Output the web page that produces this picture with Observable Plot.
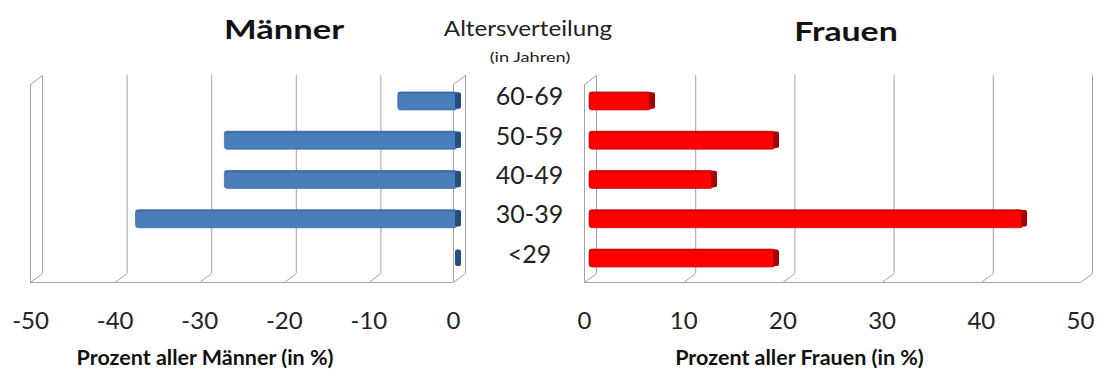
<!DOCTYPE html>
<html>
<head>
<meta charset="utf-8">
<script src="https://cdn.jsdelivr.net/npm/d3@7"></script>
<script src="https://cdn.jsdelivr.net/npm/@observablehq/plot@0.6"></script>
<style>
  body { margin: 0; background: #fff; font-family: Lato, "Open Sans", sans-serif; }
  #page { position: relative; width: 1107px; height: 374px; overflow: hidden; }
  .t { position: absolute; white-space: nowrap; color: #111; }
  .panel { position: absolute; top: 60px; }
  .panel svg { overflow: visible; }
</style>
</head>
<body>
<div id="page">
  <div class="t" style="left:284px;top:29px;font-size:26px;font-weight:bold;transform:translate(-50%,-50%) scaleX(1.33);">Männer</div>
  <div class="t" style="left:528px;top:27px;font-size:21px;color:#222;transform:translate(-50%,-50%) scaleX(1.15);">Altersverteilung</div>
  <div class="t" style="left:530px;top:56px;font-size:14px;color:#222;transform:translate(-50%,-50%) scaleX(1.3);">(in Jahren)</div>
  <div class="t" style="left:846px;top:31px;font-size:26px;font-weight:bold;transform:translate(-50%,-50%) scaleX(1.3);">Frauen</div>
  <div class="panel" id="men" style="left:0px;"></div>
  <div class="panel" id="women" style="left:560px;"></div>
</div>
<script>
// Age groups, bottom to top
const ageGroups = ["<29", "30-39", "40-49", "50-59", "60-69"];
// Share of all men / women per age group (%)
const menShare = [0, -38, -27.5, -27.5, -7];
const womenShare = [18.75, 43.75, 12.5, 18.75, 6.25];
// Axis tick values
const menTicks = [-50, -40, -30, -20, -10, 0];
const womenTicks = [0, 10, 20, 30, 40, 50];
const menAxisTitle = "Prozent aller Männer (in %)";
const womenAxisTitle = "Prozent aller Frauen (in %)";

// Layout of the pseudo-3D frame (y in category-index units)
const H = 314, MT = 15, MB = 92;
const Y_FLOOR = -0.61, Y_TOP = 4.66;
const DEPTH_X = 12, DEPTH_Y = 9;      // back wall offset in px
const BAR_HALF = 0.23;
const GRID = "#a4a4a4";

function panel(o) {
  const plotW = o.width - o.marginLeft - o.marginRight;
  const pxX = plotW / (o.domain[1] - o.domain[0]);
  const pxY = (H - MT - MB) / (Y_TOP - Y_FLOOR);
  const dX = DEPTH_X / pxX, dY = DEPTH_Y / pxY;
  const capW = 6 / pxX;
  const rows = ageGroups.map((g, i) => ({ g, i, v: o.values[i] }));
  const lo = d => Math.min(d.v, 0), hi = d => Math.max(d.v, 0);

  const marks = [
    // back wall gridlines
    Plot.ruleX(o.ticks, { x: d => d + dX, y1: Y_FLOOR + dY, y2: Y_TOP, stroke: GRID }),
    // floor: diagonal ticks and front edge
    Plot.link(o.ticks, { x1: d => d, y1: Y_FLOOR, x2: d => d + dX, y2: Y_FLOOR + dY, stroke: GRID }),
    Plot.ruleY([Y_FLOOR], { x1: o.domain[0], x2: o.domain[1], stroke: GRID }),
    // side walls
    Plot.ruleX(o.walls, { y1: Y_FLOOR, y2: Y_TOP - dY, stroke: GRID }),
    Plot.link(o.walls, { x1: d => d, y1: Y_TOP - dY, x2: d => d + dX, y2: Y_TOP, stroke: GRID }),
    // bars
    Plot.rect(rows, {
      x1: lo, x2: hi, y1: d => d.i - BAR_HALF, y2: d => d.i + BAR_HALF,
      fill: o.color, stroke: o.edge, strokeWidth: 1, strokeOpacity: 0.6, rx: 3, dx: o.barDx
    }),
    // top face of bars
    Plot.rect(rows, {
      x1: lo, x2: hi, y1: d => d.i + BAR_HALF - 0.05, y2: d => d.i + BAR_HALF,
      fill: o.edge, fillOpacity: 0.45, dx: o.barDx
    }),
    // visible end face of bars
    Plot.rect(rows, {
      x1: hi, x2: d => hi(d) + capW, y1: d => d.i - BAR_HALF + 0.03, y2: d => d.i + BAR_HALF - 0.01,
      fill: o.cap, rx: 2, dx: o.barDx - 2
    }),
    // value axis
    Plot.axisX(o.ticks, {
      tickSize: 0, tickPadding: 29, fontSize: 24, fill: "#222",
      tickFormat: d => String(d), label: null
    }),
    Plot.text([o.title], {
      text: d => d, frameAnchor: "bottom", dx: o.titleDx, dy: 82,
      fontSize: 21.5, fontWeight: "bold", fill: "#111"
    })
  ];
  if (o.labels) {
    marks.push(Plot.text(rows, {
      y: "i", text: "g", frameAnchor: "right", dx: 76, dy: -4,
      fontSize: 25, fill: "#222", textAnchor: "middle"
    }));
  }
  return Plot.plot({
    width: o.width, height: H,
    marginTop: MT, marginBottom: MB, marginLeft: o.marginLeft, marginRight: o.marginRight,
    x: { domain: o.domain, axis: null },
    y: { domain: [Y_FLOOR, Y_TOP], axis: null },
    style: { fontFamily: "Lato, 'Open Sans', sans-serif", background: "transparent" },
    marks
  });
}

document.getElementById("men").append(panel({
  values: menShare, ticks: menTicks, domain: [-50, 0], walls: [-50, 0],
  width: 480, marginLeft: 30, marginRight: 27,
  color: "#4a7ebb", edge: "#2c5d96", cap: "#244f82", barDx: 4,
  title: menAxisTitle, titleDx: -37, labels: true
}));
document.getElementById("women").append(panel({
  values: womenShare, ticks: womenTicks, domain: [0, 50], walls: [0],
  width: 547, marginLeft: 24, marginRight: 27,
  color: "#ff0000", edge: "#b00000", cap: "#a80000", barDx: 5,
  title: womenAxisTitle, titleDx: -33, labels: false
}));
</script>
</body>
</html>
